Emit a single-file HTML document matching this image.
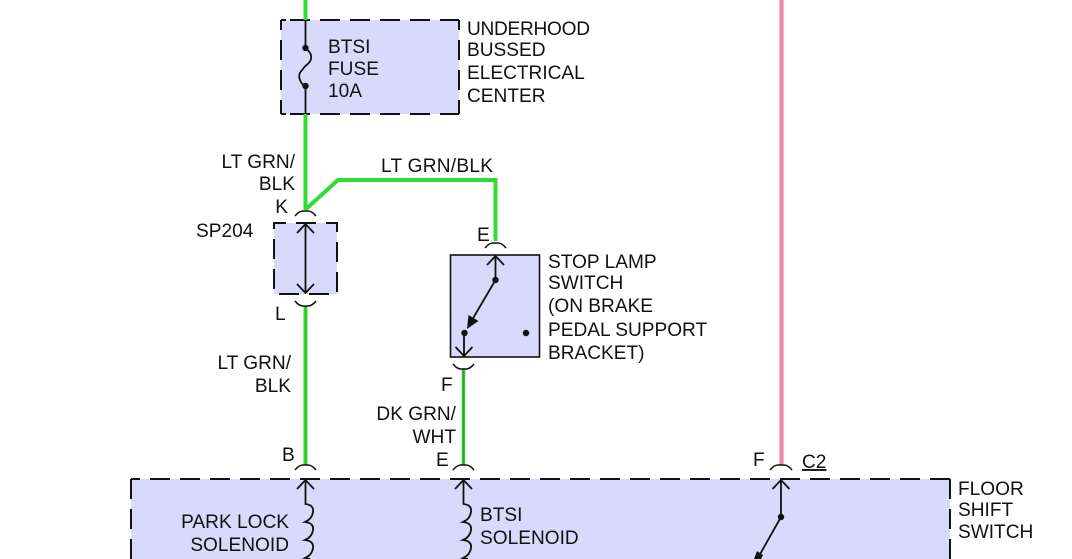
<!DOCTYPE html>
<html>
<head>
<meta charset="utf-8">
<style>
html,body{margin:0;padding:0;background:#fff;width:1072px;height:559px;overflow:hidden}
svg{display:block}
text{font-family:"Liberation Sans",sans-serif;font-size:19.1px;fill:#111}
.e{text-anchor:end}
.fill{fill:#d9d9fb;stroke:none}
.dash{fill:none;stroke:#111;stroke-width:2;stroke-dasharray:20 10}
.blk{fill:none;stroke:#111;stroke-width:1.8}
.g{fill:none;stroke:#2fdc2f;stroke-width:4}
.gd{fill:none;stroke:#2c9c2c;stroke-width:1.4}
.c{fill:none;stroke:#111;stroke-width:1.6}
</style>
</head>
<body>
<svg width="1072" height="559" viewBox="0 0 1072 559" xmlns="http://www.w3.org/2000/svg">
<rect width="1072" height="559" fill="#fff"/>

<!-- boxes -->
<rect x="281" y="20" width="178" height="94" class="fill"/>
<path d="M281 20H459" class="dash" stroke-dashoffset="21"/>
<path d="M281 114H459" class="dash" stroke-dashoffset="21"/>
<path d="M281 20V114" class="dash" stroke-dashoffset="10"/>
<path d="M459 20V114" class="dash" stroke-dashoffset="10"/>
<path d="M281 20H286M281 20V26M459 20H454M459 20V26M281 114H286M281 114V108M459 114H454M459 114V108" fill="none" stroke="#111" stroke-width="2"/>

<rect x="274" y="223" width="63" height="71" class="fill"/>
<path d="M274 223H337V294H274Z" class="dash" stroke-dasharray="19 9" stroke-dashoffset="8"/>

<rect x="450.500" y="255" width="89" height="102" fill="#d9d9fb" stroke="#111" stroke-width="1.6"/>

<rect x="131" y="479" width="819" height="80" class="fill"/>
<path d="M131 479H950" class="dash" stroke-dashoffset="11"/>
<path d="M131 479V559" class="dash"/>
<path d="M950 479V559" class="dash"/>

<!-- wires -->
<path d="M305.500 0V20" class="g"/>
<path d="M305.500 114V210" class="g"/>
<path d="M306 209L338 180H495.500V241" class="g" stroke-linejoin="miter"/>
<path d="M305.500 306V465" class="g"/>
<path d="M305.500 306V465" class="gd" stroke-opacity=".45"/>
<path d="M463.500 369V465" fill="none" stroke="#35c935" stroke-width="3.500"/>
<path d="M463.500 369V465" class="gd" stroke-opacity=".8"/>
<path d="M781.500 0V465" fill="none" stroke="#f8b4c8" stroke-width="5"/>
<path d="M781.500 0V465" fill="none" stroke="#ef8ca8" stroke-width="3"/>

<!-- fuse -->
<path d="M305.500 20V48M305.500 86V114" class="blk"/>
<path d="M305.500 48C309 51 312 54 311 59C310 64 305 65 303 69C300 72 298 75 300 80C301 83 303 85 305.500 86" class="blk"/>
<circle cx="305.500" cy="48" r="3.200" fill="#111"/>
<circle cx="305.500" cy="86" r="3.200" fill="#111"/>

<!-- connector marks -->
<g class="c">
<path d="M295 216Q299 211 303 211H308Q312 211 316 216"/>
<path d="M295 301Q299 306 303 306H308Q312 306 316 301"/>
<path d="M485 248Q489 243 493 243H498Q502 243 506 248"/>
<path d="M453 364Q457 369 461 369H466Q470 369 474 364"/>
<path d="M295 470Q299 465 303 465H308Q312 465 316 470"/>
<path d="M453 470Q457 465 461 465H466Q470 465 474 470"/>
<path d="M770 470Q774 465 778 465H784Q788 465 792 470"/>
</g>

<!-- SP204 arrows -->
<path d="M305.500 224V293M297 233L305.500 224L314 233M297 284L305.500 293L314 284" class="blk"/>

<!-- stop lamp switch -->
<path d="M495.500 256V280M487 265L495.500 256L504 265" class="blk"/>
<circle cx="495.500" cy="280" r="3.200" fill="#111"/>
<path d="M495.500 280L472 320" class="blk"/>
<path d="M467 329L468.500 315L478.500 321Z" fill="#111"/>
<circle cx="464.500" cy="333" r="3.200" fill="#111"/>
<circle cx="526" cy="333" r="3.200" fill="#111"/>
<path d="M464 333V356M455.500 347L464 356L472.500 347" class="blk"/>

<!-- floor shift -->
<path d="M305.500 480V504Q314 505 313 512Q312 519 305 522Q314 523 313 530Q312 537 305 540Q314 541 313 548Q312 555 305 558L310 559" class="blk"/>
<path d="M297 489L305.500 480L314 489" class="blk"/>
<path d="M463.500 480V504Q472 505 471 512Q470 519 463 522Q472 523 471 530Q470 537 463 540Q472 541 471 548Q470 555 463 558L468 559" class="blk"/>
<path d="M455 489L463.500 480L472 489" class="blk"/>
<path d="M781 480V517M772.500 489L781 480L789.500 489" class="blk"/>
<circle cx="781" cy="517" r="3.200" fill="#111"/>
<path d="M781 517L759 556" class="blk"/>
<path d="M754 559L757 551L763 555L761 559Z" fill="#111"/>

<!-- labels -->
<text x="467" y="35" textLength="123">UNDERHOOD</text>
<text x="467" y="56">BUSSED</text>
<text x="467" y="79">ELECTRICAL</text>
<text x="467" y="102">CENTER</text>
<text x="328" y="53">BTSI</text>
<text x="328" y="75">FUSE</text>
<text x="328" y="97">10A</text>
<text x="295" y="168" class="e">LT GRN/</text>
<text x="295" y="190" class="e">BLK</text>
<text x="288" y="213" class="e">K</text>
<text x="381" y="172" textLength="112">LT GRN/BLK</text>
<text x="196" y="237">SP204</text>
<text x="275" y="320">L</text>
<text x="291" y="369" class="e">LT GRN/</text>
<text x="291" y="392" class="e">BLK</text>
<text x="282" y="461">B</text>
<text x="477" y="241">E</text>
<text x="548" y="268">STOP LAMP</text>
<text x="548" y="289">SWITCH</text>
<text x="548" y="312">(ON BRAKE</text>
<text x="548" y="336">PEDAL SUPPORT</text>
<text x="548" y="359">BRACKET)</text>
<text x="441" y="391">F</text>
<text x="456" y="420" class="e">DK GRN/</text>
<text x="456" y="443" class="e">WHT</text>
<text x="436" y="466">E</text>
<text x="753" y="466">F</text>
<text x="802" y="468" text-decoration="underline">C2</text>
<text x="958" y="495">FLOOR</text>
<text x="958" y="516">SHIFT</text>
<text x="958" y="538">SWITCH</text>
<text x="289" y="528" class="e">PARK LOCK</text>
<text x="289" y="551" class="e">SOLENOID</text>
<text x="480" y="521">BTSI</text>
<text x="480" y="544">SOLENOID</text>
</svg>
</body>
</html>
